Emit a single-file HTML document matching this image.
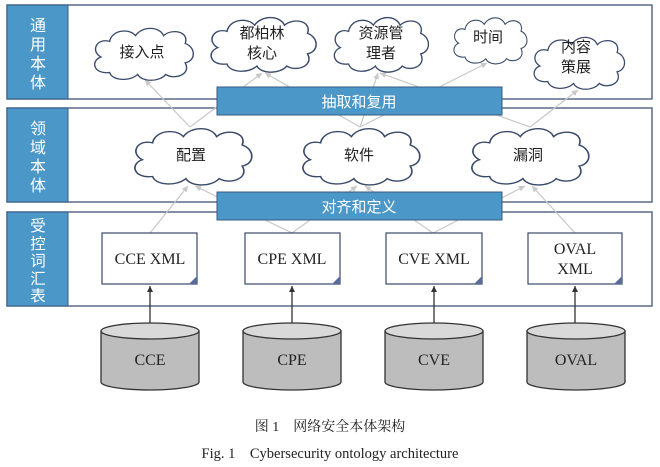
<!DOCTYPE html>
<html><head><meta charset="utf-8"><style>
html,body{margin:0;padding:0;background:#fff;width:660px;height:467px;overflow:hidden}
svg{display:block}
.cj{font-family:"Liberation Sans","Noto Sans CJK SC",sans-serif}
.sr{font-family:"Liberation Serif","Noto Serif CJK SC",serif}
</style></head><body>
<svg width="660" height="467" viewBox="0 0 660 467" xmlns="http://www.w3.org/2000/svg">
<defs>
<path id="cl" d="M20,50 C5,52 2,38 12,34 C2,28 8,14 20,18 C22,6 38,4 44,12 C50,2 66,2 70,12 C78,4 94,8 90,20 C100,24 100,38 90,40 C96,52 80,58 72,52 C66,60 50,60 46,52 C38,60 22,58 20,50 Z"/>
<marker id="ag" markerWidth="8" markerHeight="8" refX="6" refY="3" orient="auto" markerUnits="userSpaceOnUse"><path d="M0,0 L6,3 L0,6 Z" fill="#c8c8c8"/></marker>
<marker id="ad" markerWidth="8" markerHeight="8" refX="6" refY="3" orient="auto" markerUnits="userSpaceOnUse"><path d="M0,0 L6,3 L0,6 Z" fill="#333"/></marker>
</defs>
<g fill="#fff" stroke="#5a6a8a" stroke-width="1.5">
<rect x="7" y="5" width="645" height="94"/>
<rect x="7" y="108" width="645" height="94"/>
<rect x="7" y="212" width="645" height="94"/>
</g>
<g fill="#4a97c8" stroke="#3a5a80" stroke-width="1">
<rect x="7" y="5" width="61" height="94"/>
<rect x="7" y="108" width="61" height="94"/>
<rect x="7" y="212" width="61" height="94"/>
</g>
<g class="cj" fill="#fff" font-size="16" text-anchor="middle">
<text x="38" y="31">通</text><text x="38" y="50">用</text><text x="38" y="69">本</text><text x="38" y="88">体</text>
<text x="38" y="134">领</text><text x="38" y="153">域</text><text x="38" y="172">本</text><text x="38" y="191">体</text>
</g>
<g class="cj" fill="#fff" font-size="15.5" text-anchor="middle">
<text x="38" y="231">受</text><text x="38" y="249">控</text><text x="38" y="266">词</text><text x="38" y="284">汇</text><text x="38" y="301">表</text>
</g>
<g stroke="#c8c8c8" stroke-width="1.2" fill="none" marker-end="url(#ag)">
<line x1="190" y1="127" x2="145" y2="80"/>
<line x1="190" y1="127" x2="262" y2="73"/>
<line x1="360" y1="127" x2="265" y2="73"/>
<line x1="360" y1="127" x2="378" y2="73"/>
<line x1="360" y1="127" x2="487" y2="63"/>
<line x1="530" y1="127" x2="380" y2="73"/>
<line x1="530" y1="127" x2="578" y2="90"/>
<line x1="150" y1="233" x2="188" y2="186"/>
<line x1="292" y1="233" x2="195" y2="186"/>
<line x1="292" y1="233" x2="357" y2="186"/>
<line x1="433" y1="233" x2="365" y2="186"/>
<line x1="433" y1="233" x2="525" y2="186"/>
<line x1="575" y1="233" x2="532" y2="186"/>
</g>
<g fill="#fff" stroke="#3a4a6a" stroke-width="1.3">
<use href="#cl" transform="translate(88,24) scale(1.08,0.97)"/>
<use href="#cl" transform="translate(204,13) scale(1.15,1.02)"/>
<use href="#cl" transform="translate(328,13) scale(1.03,1.02)"/>
<use href="#cl" transform="translate(449,14) scale(0.8,0.86)"/>
<use href="#cl" transform="translate(528,33) scale(0.99,0.97)"/>
<use href="#cl" transform="translate(127,124) scale(1.28,1.05)"/>
<use href="#cl" transform="translate(295,124) scale(1.28,1.05)"/>
<use href="#cl" transform="translate(464,124) scale(1.28,1.05)"/>
</g>
<g class="cj" fill="#222" font-size="15" text-anchor="middle">
<text x="142" y="57">接入点</text>
<text x="262" y="38">都柏林</text><text x="262" y="58">核心</text>
<text x="381" y="38">资源管</text><text x="381" y="58">理者</text>
<text x="488" y="42">时间</text>
<text x="576" y="52">内容</text><text x="576" y="72">策展</text>
<text x="191" y="160">配置</text>
<text x="359" y="160">软件</text>
<text x="528" y="160">漏洞</text>
</g>
<g fill="#4a97c8" stroke="#3a5a80" stroke-width="1">
<rect x="217" y="87" width="285" height="28"/>
<rect x="217" y="192" width="285" height="28"/>
</g>
<g class="cj" fill="#fff" font-size="15" text-anchor="middle">
<text x="359" y="107">抽取和复用</text>
<text x="359" y="212">对齐和定义</text>
</g>
<g fill="#fff" stroke="#3a4a6a" stroke-width="1.2">
<rect x="102" y="233" width="95" height="51"/>
<rect x="245" y="233" width="95" height="51"/>
<rect x="386" y="233" width="96" height="51"/>
<rect x="528" y="233" width="94" height="51"/>
</g>
<g fill="#5a6a9a">
<path d="M197,276 L197,284 L189,284 Z"/>
<path d="M340,276 L340,284 L332,284 Z"/>
<path d="M482,276 L482,284 L474,284 Z"/>
<path d="M622,276 L622,284 L614,284 Z"/>
</g>
<g class="sr" fill="#222" font-size="16" text-anchor="middle">
<text x="150" y="264">CCE XML</text>
<text x="292" y="264">CPE XML</text>
<text x="434" y="264">CVE XML</text>
<text x="575" y="254">OVAL</text><text x="575" y="274">XML</text>
</g>
<g stroke="#333" stroke-width="1.3" marker-end="url(#ad)">
<line x1="150" y1="323" x2="150" y2="286"/>
<line x1="292" y1="323" x2="292" y2="286"/>
<line x1="434" y1="323" x2="434" y2="286"/>
<line x1="575" y1="323" x2="575" y2="286"/>
</g>
<g stroke="#333" stroke-width="1.3">
<g transform="translate(101,0)"><path d="M0,331 L0,382 A49,8 0 0 0 98,382 L98,331 Z" fill="#bdbdbd"/><ellipse cx="49" cy="331" rx="49" ry="8" fill="#d9d9d9"/></g>
<g transform="translate(243,0)"><path d="M0,331 L0,382 A49,8 0 0 0 98,382 L98,331 Z" fill="#bdbdbd"/><ellipse cx="49" cy="331" rx="49" ry="8" fill="#d9d9d9"/></g>
<g transform="translate(385,0)"><path d="M0,331 L0,382 A49,8 0 0 0 98,382 L98,331 Z" fill="#bdbdbd"/><ellipse cx="49" cy="331" rx="49" ry="8" fill="#d9d9d9"/></g>
<g transform="translate(527,0)"><path d="M0,331 L0,382 A49,8 0 0 0 98,382 L98,331 Z" fill="#bdbdbd"/><ellipse cx="49" cy="331" rx="49" ry="8" fill="#d9d9d9"/></g>
</g>
<g class="sr" fill="#222" font-size="16" text-anchor="middle">
<text x="150" y="365">CCE</text>
<text x="292" y="365">CPE</text>
<text x="434" y="365">CVE</text>
<text x="576" y="365">OVAL</text>
</g>
<text x="330" y="431" class="sr" font-size="14" fill="#222" text-anchor="middle">图 1　网络安全本体架构</text>
<text x="330" y="458" class="sr" font-size="14.5" fill="#222" text-anchor="middle">Fig. 1　Cybersecurity ontology architecture</text>
</svg>
</body></html>
